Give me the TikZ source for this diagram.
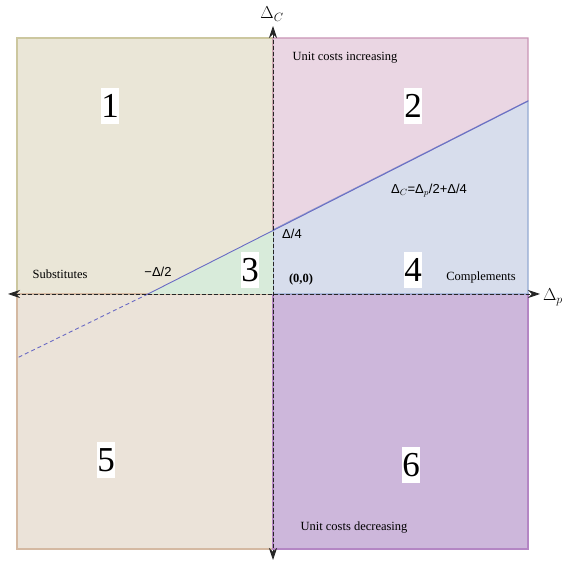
\documentclass[tikz,border=0pt]{standalone}
\usepackage{fontspec}
\setmainfont{Liberation Serif}
\newfontfamily\arialfont{Liberation Sans}
\usetikzlibrary{arrows.meta, positioning}
\definecolor{SandFill}{HTML}{EAE6D7}
\definecolor{SandLine}{HTML}{CCC79F}
\definecolor{TanFill} {HTML}{EBE3D9}
\definecolor{TanLine} {HTML}{D4B9A2}
\definecolor{PinkFill}{HTML}{EAD6E3}
\definecolor{PinkLine}{HTML}{C995B6}
\definecolor{BlueFill}{HTML}{D7DDEC}
\definecolor{BlueLine}{HTML}{93A9D2}
\definecolor{MintFill}{HTML}{D8EBDA}
\definecolor{PlumFill}{HTML}{CDB7DB}
\definecolor{PlumLine}{HTML}{B486C4}
\definecolor{LineBlue}{HTML}{6A6AC4}

\begin{document}
\begin{tikzpicture}[
  x = 1pt, y = -1pt,
  region/.style = {line width=1.2pt},
  num/.style    = {fill=white, font=\fontsize{35}{35}\selectfont,
                   inner xsep=0.5pt, inner ysep=6pt},
  lbl/.style    = {font=\fontsize{12.5}{14}\selectfont, inner sep=0pt},
  sans/.style   = {font=\arialfont\fontsize{13}{15}\selectfont, inner sep=0pt},
  axlbl/.style  = {font=\fontsize{17}{20}\selectfont, inner sep=0pt},
  axis/.style   = {{Stealth[length=12pt,width=8pt]}-{Stealth[length=12pt,width=8pt]},
                   black!85, line width=0.8pt, dash pattern=on 4pt off 2pt},
  slope/.style  = {LineBlue, line width=0.9pt},
]
\useasboundingbox (0,0) rectangle (566,564);
\coordinate (sx) at (148,294);
\coordinate (yc) at (273,230);
\coordinate (ex) at (528,101);
\coordinate (dl) at (17,358);
\coordinate (xl) at (8,294);
\coordinate (xr) at (540,294);
\coordinate (yt) at (273,26);
\coordinate (yb) at (273,560);
\filldraw[region, fill=SandFill, draw=SandLine] (17,38) rectangle (273,294);
\filldraw[region, fill=TanFill,  draw=TanLine]  (17,294) rectangle (273,549);
\filldraw[region, fill=PlumFill, draw=PlumLine] (273,294) rectangle (528,549);
\filldraw[region, fill=PinkFill, draw=PinkLine] (273,38) -- (528,38) -- (ex) -- (yc) -- cycle;
\filldraw[region, fill=BlueFill, draw=BlueLine] (yc) -- (ex) -- (528,294) -- (273,294) -- cycle;
\fill[MintFill] (sx) -- (yc) -- (273,294) -- cycle;
\draw[slope] (sx) -- (ex);
\draw[slope, dash pattern=on 4pt off 3pt] (sx) -- (dl);
\draw[axis] (xl) -- (xr);
\draw[axis] (yt) -- (yb);
\node[num] (n1) at (110,106) {1};
\node[num] (n2) at (413,106) {2};
\node[num] (n3) at (250,270) {3};
\node[num] (n4) at (413,270) {4};
\node[num] (n5) at (106,460) {5};
\node[num] (n6) at (411,465) {6};
\node[axlbl] (dc) at (272,14) {$\Delta_C$};
\node[axlbl] (dp) at (553,297) {$\Delta_p$};
\node[lbl] (inc)  at (345,58)  {Unit costs increasing};
\node[lbl] (dec)  at (354,528) {Unit costs decreasing};
\node[lbl] (subs) at (60,274)  {Substitutes};
\node[lbl] (comp) at (481,277) {Complements};
\node[lbl, font=\bfseries\fontsize{12.5}{14}\selectfont] (orig) at (301,279) {(0,0)};
\node[sans] (half) at (158,272) {−Δ/2};
\node[sans] (qtr)  at (292,234) {Δ/4};
\node[sans] (eq)   at (429,191) {Δ$_C$=Δ$_p$/2+Δ/4};
\end{tikzpicture}
\end{document}
